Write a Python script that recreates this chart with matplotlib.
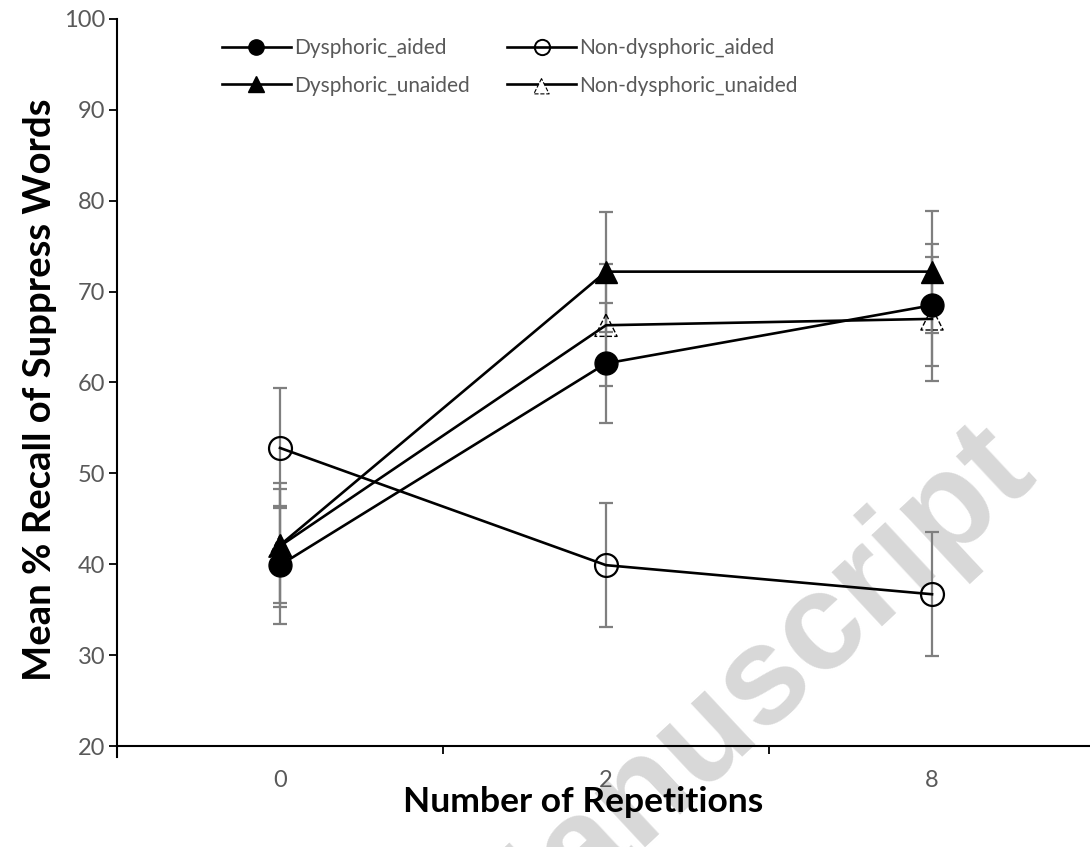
import numpy as np
import matplotlib.pyplot as plt
from matplotlib.lines import Line2D
from matplotlib.legend_handler import HandlerTuple

plt.rcParams['font.family'] = ['Lato', 'DejaVu Sans']

reps = ['0', '2', '8']
dys_aided = [39.9, 62.1, 68.5]
dys_aided_err = [6.5, 6.6, 6.7]
non_aided = [52.8, 39.9, 36.7]
non_aided_err = [6.6, 6.8, 6.8]
dys_unaided = [42.1, 72.2, 72.2]
dys_unaided_err = [6.8, 6.6, 6.7]
non_unaided = [42.0, 66.3, 67.0]
non_unaided_err = [6.3, 6.7, 6.8]

W, H = 1090, 847
fig = plt.figure(figsize=(W / 100, H / 100), dpi=100)
# plot area in pixels: x 117..1095 (runs a bit past the edge), y 19..746
ax = fig.add_axes([117 / W, 1 - 746 / H, (1095 - 117) / W, (746 - 19) / H])
ax.set_facecolor('none')

grey = '#7f7f7f'
txt = '#595959'
x = np.arange(len(reps))

eb = dict(fmt='none', ecolor=grey, elinewidth=1.6, capsize=5, capthick=1.6, zorder=2)
ax.errorbar(x, non_unaided, yerr=non_unaided_err, **eb)
ax.errorbar(x, non_aided, yerr=non_aided_err, **eb)
ax.errorbar(x, dys_aided, yerr=dys_aided_err, **eb)
ax.errorbar(x, dys_unaided, yerr=dys_unaided_err, **eb)

lw = 1.9
ax.plot(x, non_unaided, color='black', lw=lw, zorder=3)
ax.scatter(x, non_unaided, s=16 ** 2, marker='^', facecolors='none',
           edgecolors='black', linewidths=1.0, linestyles='--', zorder=4)
ax.plot(x, non_aided, color='black', lw=lw, marker='o', ms=16.5,
        mfc='none', mec='black', mew=1.6, zorder=5)
ax.plot(x, dys_aided, color='black', lw=lw, marker='o', ms=16.5,
        mfc='black', mec='black', zorder=6)
ax.plot(x, dys_unaided, color='black', lw=lw, marker='^', ms=16,
        mfc='black', mec='black', zorder=7)

ax.set_xlim(-0.5, 2.5)
ax.set_ylim(20, 100)
ax.set_yticks(np.arange(20, 101, 10))
ax.set_xticks([-0.5, 0.5, 1.5, 2.5])
ax.set_xticklabels([])
ax.set_xticks(x, minor=True)
ax.set_xticklabels(reps, minor=True)
ax.tick_params(axis='x', which='major', direction='out', length=6, width=1.3, color='black')
ax.tick_params(axis='x', which='minor', length=0, pad=17.5, labelsize=17, labelcolor=txt)
ax.tick_params(axis='y', direction='out', length=5.5, width=1.3, color='black',
               pad=3, labelsize=17, labelcolor=txt)
for s in ['top', 'right']:
    ax.spines[s].set_visible(False)
for s in ['left', 'bottom']:
    ax.spines[s].set_linewidth(1.5)
ax.spines['left'].set_bounds(18.8, 100)

fig.text(40 / W, 1 - 390 / H, 'Mean % Recall of Suppress Words', rotation=90,
         ha='center', va='center', fontsize=27.5, fontweight='bold')
fig.text(583 / W, 1 - 802 / H, 'Number of Repetitions', ha='center', va='center',
         fontsize=25.5, fontweight='bold')

# legend
h_da = Line2D([], [], color='black', lw=lw, marker='o', ms=11, mfc='black', mec='black')
h_du = Line2D([], [], color='black', lw=lw, marker='^', ms=11, mfc='black', mec='black')
h_na = Line2D([], [], color='black', lw=lw, marker='o', ms=11, mfc='none', mec='black', mew=1.4)
h_nu_line = Line2D([], [], color='black', lw=lw)
h_nu_mark = ax.scatter([np.nan], [np.nan], s=11 ** 2, marker='^', facecolors='white',
                       edgecolors='black', linewidths=0.8, linestyles='--')
leg = fig.legend([h_da, h_du, h_na, (h_nu_line, h_nu_mark)],
                 ['Dysphoric_aided', 'Dysphoric_unaided',
                  'Non-dysphoric_aided', 'Non-dysphoric_unaided'],
                 ncol=2, frameon=False, fontsize=15, labelcolor=txt,
                 loc='upper left', bbox_to_anchor=(222 / W, 1 - 38 / H),
                 borderpad=0, borderaxespad=0, handlelength=3.3, handletextpad=0.15,
                 columnspacing=1.8, labelspacing=0.85,
                 handler_map={tuple: HandlerTuple(ndivide=1)})

# watermark behind the chart
fig.text(1040 / W, 1 - 480 / H, 'Accepted Manuscript', rotation=43, rotation_mode='anchor',
         ha='right', va='baseline', fontsize=100, fontweight='bold',
         family='Liberation Sans', color='#d8d8d8', zorder=-5)

plt.savefig('out.png', dpi=100)
plt.close()
